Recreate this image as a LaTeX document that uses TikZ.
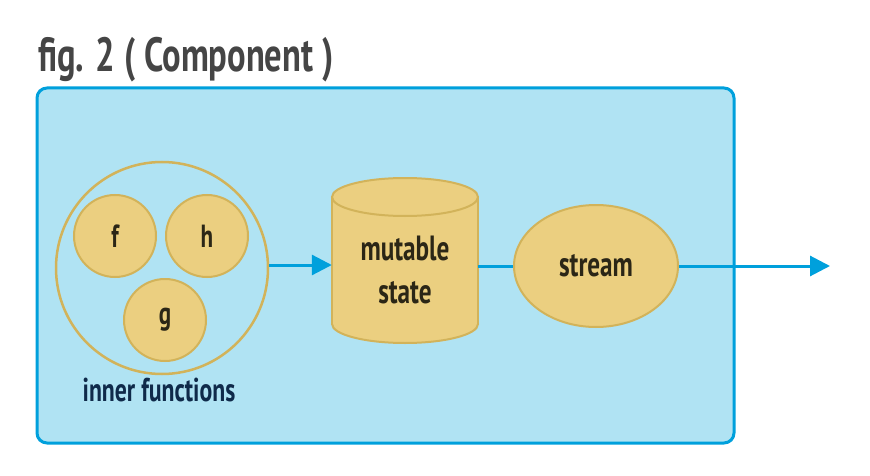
\documentclass[tikz,border=0pt]{standalone}
\usepackage{fontspec}
\setmainfont{PT Sans}[FakeStretch=0.72]
\usetikzlibrary{arrows.meta,shapes.geometric}
\definecolor{boxfill}{HTML}{B0E3F3}
\definecolor{boxline}{HTML}{00A0DC}
\definecolor{gold}{HTML}{EBCF80}
\definecolor{goldline}{HTML}{D2B35A}
\definecolor{titlegrey}{HTML}{454545}
\definecolor{navy}{HTML}{0F2A4A}
\definecolor{ink}{HTML}{2B2616}
\tikzset{
  fnode/.style={circle,fill=gold,draw=goldline,line width=2pt,minimum size=82pt,inner sep=0pt,font=\bfseries\fontsize{32}{34}\selectfont,text=ink},
  conn/.style={draw=boxline,line width=3pt},
  arr/.style={conn,-{Triangle[length=20pt,width=20pt]}},
  lbl/.style={font=\bfseries\fontsize{35}{43}\selectfont,text=ink,align=center},
}
\begin{document}
\begin{tikzpicture}[x=1pt,y=-1pt]
\useasboundingbox (0,0) rectangle (870,476);
% title
\node[anchor=base west,inner sep=0pt,text=titlegrey,font=\bfseries\fontsize{48}{50}\selectfont] (title) at (38,72) {fig. 2 ( Component )};
% box
\node[draw=boxline,fill=boxfill,line width=3pt,rounded corners=10pt,minimum width=697pt,minimum height=355pt,inner sep=0pt] (box) at (385.5,265.5) {};
% inner functions group
\node[circle,draw=goldline,line width=2.5pt,minimum size=212pt,inner sep=0pt] (group) at (162,268) {};
\node[fnode] (f) at (115,236) {f};
\node[fnode] (h) at (207,236) {h};
\node[fnode] (g) at (165,320) {g};
\node[text=navy,font=\bfseries\fontsize{33}{35}\selectfont,inner sep=0pt] (gl) at (159,390) {inner functions};
% cylinder
\node[minimum width=146pt,minimum height=165pt,inner sep=0pt] (ms) at (405,260.5) {};
\fill[gold,draw=goldline,line width=2pt] (405,324) ellipse[x radius=73,y radius=19];
\fill[gold] (332,197) rectangle (478,324);
\draw[goldline,line width=2pt] (332,197) -- (332,324) (478,197) -- (478,324);
\fill[gold,draw=goldline,line width=2pt] (405,197) ellipse[x radius=73,y radius=19];
\node[lbl,anchor=base] (mst) at (405,303) {mutable\\state};
% stream
\node[ellipse,fill=gold,draw=goldline,line width=2pt,minimum width=164pt,minimum height=122pt,inner sep=0pt,lbl] (stream) at (596,266) {stream};
\coordinate (out) at (830,266);
% connectors
\draw[arr] (group.east |- 0,265) -- (ms.west |- 0,265);
\draw[conn] (ms.east |- 0,266) -- (stream.west);
\draw[arr] (stream.east) -- (out);
\end{tikzpicture}
\end{document}
